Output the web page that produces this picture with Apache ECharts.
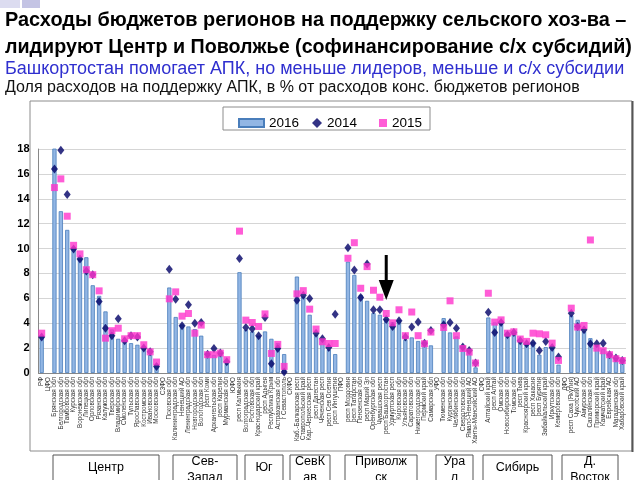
<!DOCTYPE html>
<html><head><meta charset="utf-8">
<script src="https://cdn.jsdelivr.net/npm/echarts@6/dist/echarts.min.js"></script>
<style>html,body{margin:0;padding:0;background:#fff}#c{width:640px;height:480px}</style>
</head><body><div id="c"></div>
<script>
const categories = [
 'РФ','ЦФО',
 'Брянская обл','Белгородская обл','Тамбовская обл','Курская обл','Воронежская обл','Липецкая обл','Орловская обл','Рязанская обл','Калужская обл','Тверская обл','Владимирская обл','Смоленская обл','Тульская обл','Ярославская обл','Костромская обл','Ивановская обл','Московская обл',
 'СЗФО',
 'Псковская обл','Калининградская обл','Ненецкий АО','Ленинградская обл','Новгородская обл','Вологодская обл','респ Коми','Архангельская обл','респ Карелия','Мурманская обл',
 'ЮФО',
 'респ Калмыкия','Волгоградская обл','Ростовская обл','Краснодарский край','респ Адыгея','Республика Крым','Астраханская обл','г Севастополь',
 'СКФО',
 'Каб.-Балкарская респ','Ставропольский край','Кар.-Черкесская респ','респ Дагестан','Чеченская респ','респ Сев Осетия','респ Ингушетия',
 'ПФО',
 'респ Мордовия','респ Татарстан','Пензенская обл','респ Марий Эл','Оренбургская обл','Чувашская респ','респ Башкортостан','Удмуртская респ','Кировская обл','Ульяновская обл','Саратовская обл','Нижегородская обл','Пермский край','Самарская обл',
 'УФО',
 'Тюменская обл','Курганская обл','Челябинская обл','Свердловская обл','Ямало-Ненецкий АО','Ханты-Мансийский АО',
 'СФО',
 'Алтайский край','респ Алтай','Омская обл','Новосибирская обл','Томская обл','респ Тыва','Красноярский край','респ Хакасия','респ Бурятия','Забайкальский край','Иркутская обл','Кемеровская обл',
 'ДФО',
 'респ Саха (Якутия)','Чукотский АО','Амурская обл','Сахалинская обл','Приморский край','Камчатский край','Еврейская АО','Магаданская обл','Хабаровский край'
];
const v2016 = [
 2.95,null,
 18.5,13.0,11.5,10.1,9.2,9.3,7.05,6.2,4.95,3.5,2.75,2.6,2.4,2.27,2.13,1.47,0.75,
 null,
 6.87,4.5,3.9,3.74,3.53,3.0,1.6,1.45,1.6,0.75,
 null,
 8.1,3.47,3.34,3.0,3.34,2.75,2.4,1.52,
 null,
 7.75,6.14,4.68,3.07,2.75,1.87,1.52,
 null,
 8.95,7.88,6.28,5.8,4.81,4.68,4.35,4.09,4.27,2.67,2.86,2.57,2.46,2.22,
 null,
 4.41,3.26,2.94,2.05,1.9,0.45,
 null,
 4.46,4.06,3.93,3.26,3.2,2.49,2.35,2.51,1.47,2.08,2.0,0.67,
 null,
 4.62,4.27,3.34,2.8,2.22,1.92,1.6,1.2,1.07
];
const v2014 = [
 2.9,null,
 16.4,17.9,14.35,9.97,9.17,8.2,7.9,5.75,3.6,3.0,4.35,2.6,3.0,2.9,2.0,1.7,0.53,
 null,
 8.34,5.93,3.8,5.48,4.0,4.06,1.5,1.97,1.6,0.9,
 null,
 9.2,3.66,3.55,3.0,4.46,0.75,1.97,0.08,
 null,
 5.85,6.25,5.98,3.2,2.75,2.05,4.73,
 null,
 10.07,8.28,6.06,8.76,5.08,5.08,4.3,3.74,4.2,2.9,3.69,4.09,2.4,3.42,
 null,
 3.87,4.06,3.6,2.08,1.81,0.8,
 null,
 4.89,3.26,4.06,3.07,3.26,2.6,2.35,2.4,1.81,2.54,2.05,1.28,
 null,
 4.81,3.74,3.47,2.35,2.35,2.4,1.47,1.2,1.0
];
const v2015 = [
 3.2,null,
 14.9,15.6,12.6,10.26,9.57,8.3,7.9,6.6,2.8,3.4,3.6,2.75,3.0,3.0,2.27,1.7,0.88,
 null,
 5.96,6.52,4.57,4.78,3.2,3.85,1.47,1.47,1.6,1.07,
 null,
 11.4,4.25,4.06,3.74,4.75,1.57,2.3,0.53,
 null,
 6.36,6.62,5.13,3.53,2.51,2.37,2.37,
 null,
 9.22,10.47,6.81,8.55,6.65,6.09,4.78,4.03,5.08,3.0,4.9,3.0,2.35,3.29,
 null,
 3.66,5.8,3.0,1.97,1.68,0.8,
 null,
 6.41,4.09,4.27,3.2,3.31,2.73,2.54,3.2,3.15,3.07,2.4,1.01,
 null,
 5.21,3.69,3.82,10.69,2.0,1.79,1.47,1.15,1.0
];
const seriesNames = ['2016','2014','2015'];
const districtLabels = ['Центр','Сев-\nЗапад','Юг','СевК\nав','Приволж\nск','Ура\nл','Сибирь','Д.\nВосток'];
const arrowTarget = 'респ Башкортостан';
const titleLines = [
 'Расходы бюджетов регионов на поддержку сельского хоз-ва –',
 'лидируют Центр и Поволжье (софинансирование с/х субсидий)'
];
const subtitleText = 'Башкортостан помогает АПК, но меньше лидеров, меньше и с/х субсидии';
const unitText = 'Доля расходов на поддержку АПК, в % от расходов конс. бюджетов регионов';

const boxLayout = [[53,106],[173,64],[245,38],[290,40],[345,72],[436,37],[483,69],[562,56]];

const chart = echarts.init(document.getElementById('c'), null, {renderer:'canvas'});
const FONT = 'Liberation Sans, Arial, sans-serif';

const graphics = [
 {type:'rect', shape:{x:0,y:0,width:20,height:8}, style:{fill:'#dcdcf0'}, z:0},
 {type:'rect', shape:{x:22,y:0,width:18,height:8}, style:{fill:'#c4c4e4'}, z:0},
 {type:'rect', shape:{x:30,y:101,width:602,height:350}, style:{fill:'none', stroke:'#8c8c8c', lineWidth:1}, z:0},
 {type:'line', shape:{x1:632.5,y1:101,x2:632.5,y2:452}, style:{stroke:'#555', lineWidth:2}, z:0},
 {type:'rect', shape:{x:223,y:107,width:207,height:23}, style:{fill:'#fff', stroke:'#8c8c8c', lineWidth:1}, z:1},
 {type:'text', left:5, top:11, style:{text:titleLines[0], font:'bold 19.9px '+FONT, fill:'#000'}},
 {type:'text', left:5, top:38, style:{text:titleLines[1], font:'bold 19.7px '+FONT, fill:'#000'}},
 {type:'text', left:5, top:60, style:{text:subtitleText, font:'18px '+FONT, fill:'#2f2fcf'}},
 {type:'text', left:5, top:80, style:{text:unitText, font:'16px '+FONT, fill:'#111'}}
];
districtLabels.forEach((t,i)=>{
 const b = boxLayout[i];
 graphics.push({type:'rect', shape:{x:b[0],y:455,width:b[1],height:30}, style:{fill:'#fff', stroke:'#555', lineWidth:1}, z:1});
 const two = t.indexOf('\n')>=0;
 graphics.push({type:'text', x:b[0]+b[1]/2, y: two ? 454 : 460, style:{text:t, font:'12.5px '+FONT, fill:'#000', align:'center', verticalAlign:'top', lineHeight:16}, z:2});
});

const option = {
 animation:false,
 backgroundColor:'#fff',
 graphic: graphics,
 legend:[
  {data:['2016'], left:233, top:111, icon:'rect', itemWidth:25, itemHeight:8, itemGap:5, textStyle:{fontSize:13.5, fontFamily:FONT, color:'#000'}},
  {data:['2014'], left:307, top:111, icon:'diamond', itemWidth:10, itemHeight:10, textStyle:{fontSize:13.5, fontFamily:FONT, color:'#000'}},
  {data:['2015'], left:374, top:111, icon:'rect', itemWidth:8, itemHeight:8, textStyle:{fontSize:13.5, fontFamily:FONT, color:'#000'}}
 ],
 grid:{left:38.5, right:14.5, top:149, bottom:107, containLabel:false},
 xAxis:{
  type:'category', data:categories, boundaryGap:true,
  axisLine:{lineStyle:{color:'#888'}},
  axisTick:{show:false},
  axisLabel:{interval:0, rotate:90, fontSize:6.3, color:'#333', margin:4, fontFamily:FONT}
 },
 yAxis:{
  type:'value', min:0, max:18, interval:2,
  axisLine:{show:true, lineStyle:{color:'#888'}},
  axisTick:{show:false},
  axisLabel:{fontSize:11, fontWeight:'bold', color:'#000', margin:9, fontFamily:FONT},
  splitLine:{lineStyle:{color:'#aaa', type:'dotted'}}
 },
 series:[
  {name:'2016', type:'bar', data:v2016, barWidth:4.2, clip:true,
   itemStyle:{color:'#92b6e4', borderColor:'#4a7ebb', borderWidth:0.8},
   markPoint:{silent:true, symbol:'path://M6,0 L9,0 L9,25 L15,25 L7.5,45 L0,25 L6,25 Z', symbolSize:[15,45],
    itemStyle:{color:'#000'}, label:{show:false},
    data:[{coord:[arrowTarget, 7.68]}]}
  },
  {name:'2014', type:'scatter', data:v2014, symbol:'diamond', symbolSize:[7,9],
   itemStyle:{color:'#000066'}},
  {name:'2015', type:'scatter', data:v2015, symbol:'rect', symbolSize:[7,7],
   itemStyle:{color:'#ff33cc'}}
 ]
};
chart.setOption(option);
</script>
</body></html>
